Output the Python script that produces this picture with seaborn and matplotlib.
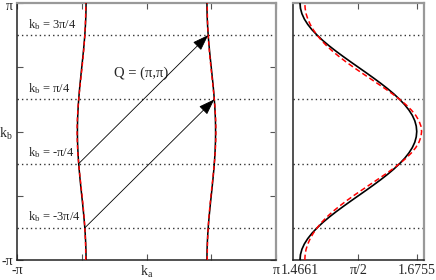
import numpy as np
import pandas as pd
import matplotlib
matplotlib.use("Agg")
import matplotlib.pyplot as plt
import matplotlib.transforms as mtransforms
import seaborn as sns

# ---- data ----
kb = [-3.1416, -3.0107, -2.8798, -2.7489, -2.6180, -2.4871, -2.3562, -2.2253,
      -2.0944, -1.9635, -1.8326, -1.7017, -1.5708, -1.4399, -1.3090, -1.1781,
      -1.0472, -0.9163, -0.7854, -0.6545, -0.5236, -0.3927, -0.2618, -0.1309,
      0.0,
      0.1309, 0.2618, 0.3927, 0.5236, 0.6545, 0.7854, 0.9163, 1.0472,
      1.1781, 1.3090, 1.4399, 1.5708, 1.7017, 1.8326, 1.9635, 2.0944,
      2.2253, 2.3562, 2.4871, 2.6180, 2.7489, 2.8798, 3.0107, 3.1416]
ka_black = [1.4661, 1.4670, 1.4696, 1.4740, 1.4801, 1.4877, 1.4968, 1.5070,
            1.5184, 1.5307, 1.5437, 1.5571, 1.5708, 1.5845, 1.5979, 1.6109,
            1.6232, 1.6346, 1.6448, 1.6539, 1.6615, 1.6676, 1.6720, 1.6746,
            1.6755,
            1.6746, 1.6720, 1.6676, 1.6615, 1.6539, 1.6448, 1.6346, 1.6232,
            1.6109, 1.5979, 1.5845, 1.5708, 1.5571, 1.5437, 1.5307, 1.5184,
            1.5070, 1.4968, 1.4877, 1.4801, 1.4740, 1.4696, 1.4670, 1.4661]
ka_red = [1.4748, 1.4754, 1.4771, 1.4802, 1.4845, 1.4900, 1.4968, 1.5047,
          1.5140, 1.5245, 1.5362, 1.5487, 1.5621, 1.5761, 1.5904, 1.6047,
          1.6188, 1.6323, 1.6448, 1.6562, 1.6659, 1.6738, 1.6795, 1.6830,
          1.6842,
          1.6830, 1.6795, 1.6738, 1.6659, 1.6562, 1.6448, 1.6323, 1.6188,
          1.6047, 1.5904, 1.5761, 1.5621, 1.5487, 1.5362, 1.5245, 1.5140,
          1.5047, 1.4968, 1.4900, 1.4845, 1.4802, 1.4771, 1.4754, 1.4748]
kb_lines = [-2.3562, -0.7854, 0.7854, 2.3562]
kb_line_labels = ["k$_\\mathrm{b}$ = -3π/4", "k$_\\mathrm{b}$ = -π/4",
                  "k$_\\mathrm{b}$ = π/4", "k$_\\mathrm{b}$ = 3π/4"]
# arrows: (start kb index on left sheet, end kb index on right sheet)
arrow_pairs = [(18, 42), (6, 30)]
left_xticks = [-3.1416, -1.5708, 0.0, 1.5708, 3.1416]
left_xticklabels = ["-π", "", "k$_\\mathrm{a}$", "", "π"]
left_yticklabels = ["-π", "", "k$_\\mathrm{b}$", "", "π"]
right_xticks = [1.4661, 1.5708, 1.6755]
right_xticklabels = ["1.4661", "π/2", "1.6755"]

df = pd.DataFrame({"kb": kb, "black": ka_black, "red": ka_red})
df["black_neg"] = -df["black"]
df["red_neg"] = -df["red"]

sns.set_style("ticks")
plt.rcParams["font.family"] = ["Liberation Serif", "DejaVu Serif"]
plt.rcParams["mathtext.fontset"] = "custom"
plt.rcParams["mathtext.rm"] = "Liberation Serif"
plt.rcParams["mathtext.it"] = "Liberation Serif"

fig = plt.figure(figsize=(4.36, 2.80), dpi=100)
ax1 = fig.add_axes([17 / 436, 20 / 280, 259 / 436, 257 / 280])
ax2 = fig.add_axes([292.7 / 436, 20 / 280, 131.3 / 436, 257 / 280])

PI = np.pi
dark = "#222222"
gray = "#999999"

for ax in (ax1, ax2):
    for s in ("left", "bottom"):
        ax.spines[s].set_color(dark)
        ax.spines[s].set_linewidth(1.1)
    for s in ("top", "right"):
        ax.spines[s].set_color(gray)
        ax.spines[s].set_linewidth(1.6)
        ax.spines[s].set_visible(True)
    for y in kb_lines:
        ax.axhline(y, color="#333333", lw=1.0, ls=(0, (1, 2.2)), zorder=1)

# left panel: Fermi sheets
sns.lineplot(data=df, x="black", y="kb", sort=False, estimator=None,
             color="black", lw=1.1, ax=ax1, zorder=3)
sns.lineplot(data=df, x="black_neg", y="kb", sort=False, estimator=None,
             color="black", lw=1.1, ax=ax1, zorder=3)
sns.lineplot(data=df, x="red", y="kb", sort=False, estimator=None,
             color="red", lw=1.0, ls=(0, (3, 2)), ax=ax1, zorder=4)
sns.lineplot(data=df, x="red_neg", y="kb", sort=False, estimator=None,
             color="red", lw=1.0, ls=(0, (3, 2)), ax=ax1, zorder=4)

for i0, i1 in arrow_pairs:
    ax1.annotate("", xy=(ka_black[i1], kb[i1]), xytext=(-ka_black[i0], kb[i0]),
                 arrowprops=dict(arrowstyle="-|>,head_length=1.0,head_width=0.35",
                                 color="black", lw=0.6, shrinkA=0, shrinkB=0),
                 zorder=5)

ax1.text(-0.134, 1.43, "Q = (π,π)", fontsize=10.5, ha="center", va="center")
for y, lab in zip(kb_lines, kb_line_labels):
    ax1.annotate(lab, xy=(-2.87, y), xytext=(0, 2.5), textcoords="offset points",
                 fontsize=9, ha="left", va="bottom")

ax1.set_xlim(-PI, PI)
ax1.set_ylim(-PI, PI)
ax1.set_xticks(left_xticks)
ax1.set_xticklabels(left_xticklabels)
ax1.set_yticks(left_xticks)
ax1.set_yticklabels(left_yticklabels)
ax1.tick_params(direction="in", length=4, width=0.8, color="#555555",
                top=True, right=True, labelsize=10, pad=3)
ax1.set_xlabel("")
ax1.set_ylabel("")
# nudge the top "π" label slightly down so it stays inside the figure
top_lab = ax1.get_yticklabels()[-1]
top_lab.set_transform(top_lab.get_transform() +
                      mtransforms.ScaledTranslation(0, -2 / 100, fig.dpi_scale_trans))

# right panel
sns.lineplot(data=df, x="black", y="kb", sort=False, estimator=None,
             color="black", lw=1.2, ax=ax2, zorder=3)
sns.lineplot(data=df, x="red", y="kb", sort=False, estimator=None,
             color="red", lw=1.1, ls=(0, (3.5, 2)), ax=ax2, zorder=4)
ax2.set_xlim(1.4531, 1.6885)
ax2.set_ylim(-PI, PI)
ax2.set_xticks(right_xticks)
ax2.set_xticklabels(right_xticklabels)
ax2.set_yticks([])
ax2.tick_params(axis="x", direction="in", length=4, width=0.8, color="#555555",
                top=True, labelsize=10, pad=3)
ax2.set_xlabel("")
ax2.set_ylabel("")

fig.savefig("out.png", dpi=100)
